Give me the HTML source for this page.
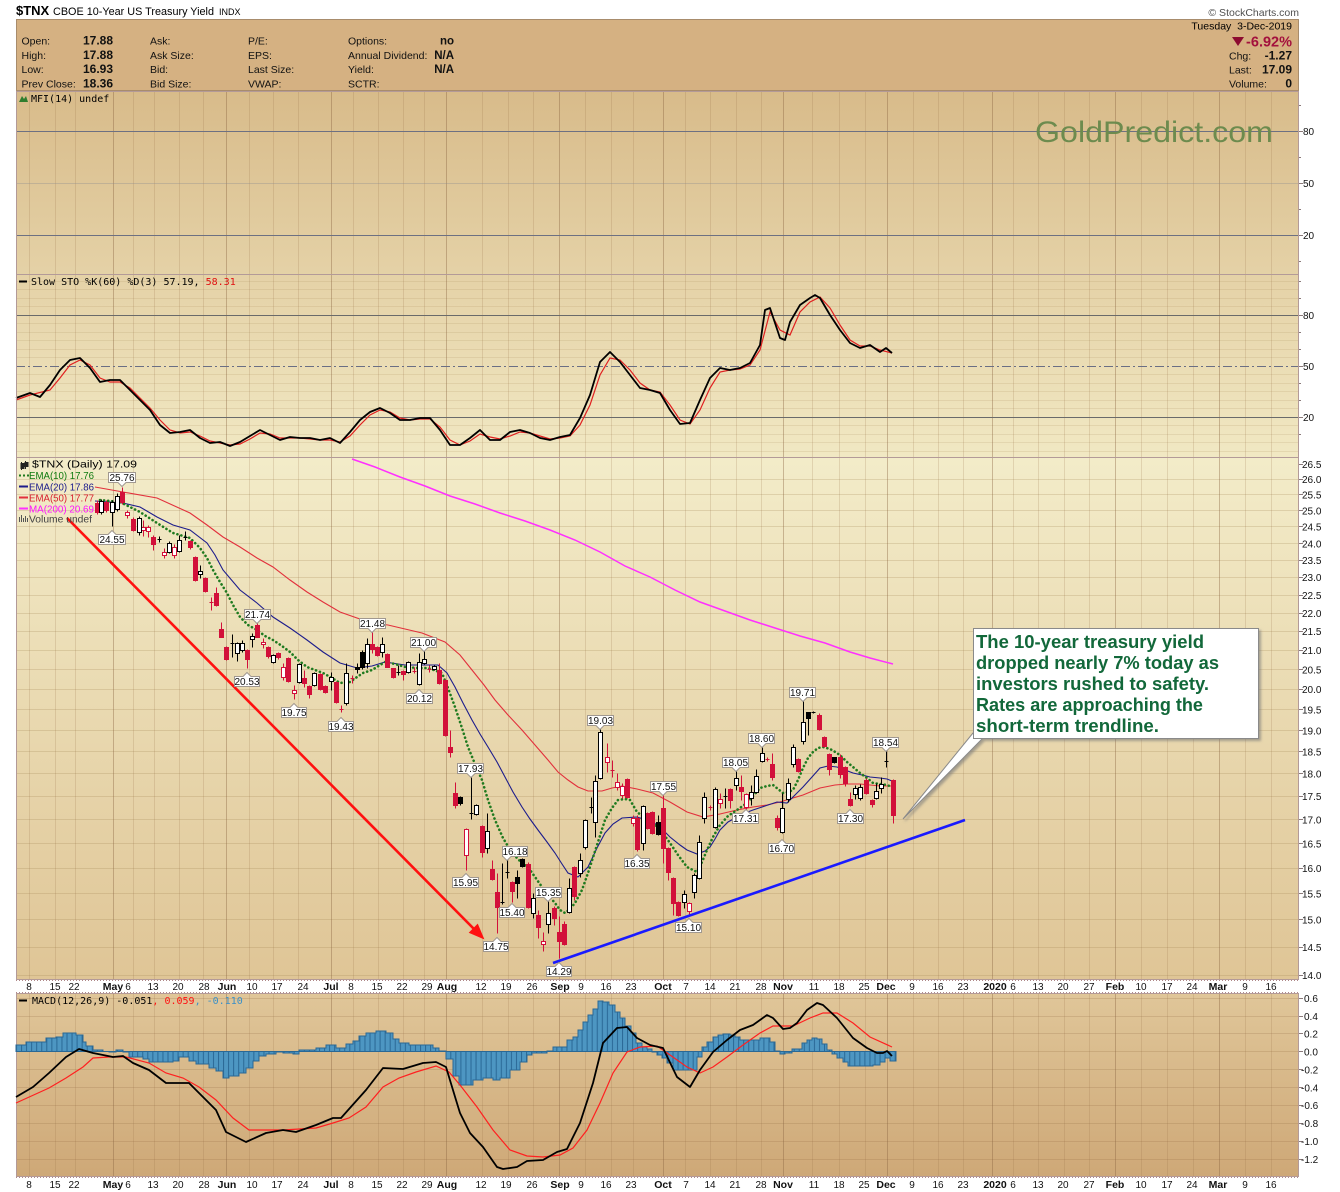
<!DOCTYPE html>
<html><head><meta charset="utf-8"><style>
html,body{margin:0;padding:0;background:#fff;}
svg{display:block;}
text{font-family:"Liberation Sans",Arial,sans-serif;}
.mono{font-family:"DejaVu Sans Mono","Liberation Mono",monospace;font-size:10px;}
.ax{font-size:10px;fill:#111;}
.xl{font-size:10px;fill:#111;text-anchor:middle;}
.xb{font-size:10.5px;font-weight:bold;fill:#111;text-anchor:middle;}
.hl{font-size:10.5px;fill:#111;}
.hv{font-size:12px;font-weight:bold;fill:#111;text-anchor:end;}
.pl{font-size:10px;fill:#111;text-anchor:middle;}
</style></head><body>
<svg width="1340" height="1192" viewBox="0 0 1340 1192" xmlns="http://www.w3.org/2000/svg">
<defs>
<linearGradient id="gTop" x1="0" y1="0" x2="0" y2="1"><stop offset="0" stop-color="#d8bb8a"/><stop offset="1" stop-color="#f1e8c3"/></linearGradient>
<linearGradient id="gMain" x1="0" y1="0" x2="0" y2="1"><stop offset="0" stop-color="#f3ecc9"/><stop offset="1" stop-color="#dfc596"/></linearGradient>
<linearGradient id="gMacd" x1="0" y1="0" x2="0" y2="1"><stop offset="0" stop-color="#e0c699"/><stop offset="1" stop-color="#cea877"/></linearGradient>
<pattern id="bars" patternUnits="userSpaceOnUse" x="16" y="0" width="5.05" height="1192"><rect width="5.05" height="1192" fill="#4d96c2"/><rect width="1" height="1192" fill="#2a6895"/></pattern>
<filter id="sh" x="-10%" y="-10%" width="130%" height="130%"><feDropShadow dx="2" dy="2" stdDeviation="1.2" flood-color="#777" flood-opacity="0.6"/></filter>
</defs>
<rect width="1340" height="1192" fill="#fff"/>

<!-- title -->
<text x="16" y="15" font-size="13" font-weight="bold">$TNX</text>
<text x="53" y="15" font-size="11" textLength="161" lengthAdjust="spacingAndGlyphs">CBOE 10-Year US Treasury Yield</text>
<text x="219" y="15" font-size="9">INDX</text>
<text x="1299" y="16" font-size="10.5" fill="#505050" text-anchor="end">© StockCharts.com</text>

<!-- header box -->
<rect x="16.5" y="19.5" width="1282" height="71" fill="#d5b182" stroke="#a88c6c"/>
<g class="hl">
<text x="21.5" y="44.5">Open:</text><text x="21.5" y="58.8">High:</text><text x="21.5" y="73.2">Low:</text><text x="21.5" y="87.5">Prev Close:</text>
<text x="150" y="44.5">Ask:</text><text x="150" y="58.8">Ask Size:</text><text x="150" y="73.2">Bid:</text><text x="150" y="87.5">Bid Size:</text>
<text x="248" y="44.5">P/E:</text><text x="248" y="58.8">EPS:</text><text x="248" y="73.2">Last Size:</text><text x="248" y="87.5">VWAP:</text>
<text x="348" y="44.5">Options:</text><text x="348" y="58.8">Annual Dividend:</text><text x="348" y="73.2">Yield:</text><text x="348" y="87.5">SCTR:</text>
</g>
<g class="hv">
<text x="113" y="44.5">17.88</text><text x="113" y="58.8">17.88</text><text x="113" y="73.2">16.93</text><text x="113" y="87.5">18.36</text>
<text x="454" y="44.5" font-size="11.5">no</text><text x="454" y="58.8" font-size="11.5">N/A</text><text x="454" y="73.2" font-size="11.5">N/A</text>
</g>
<text x="1292" y="29.5" font-size="10.5" text-anchor="end" xml:space="preserve">Tuesday  3-Dec-2019</text>
<polygon points="1232,37 1244,37 1238,46" fill="#8c0b30"/>
<text x="1292" y="46.5" font-size="14.5" font-weight="bold" fill="#a3113d" text-anchor="end">-6.92%</text>
<text x="1229" y="59.5" class="hl">Chg:</text><text x="1292" y="59.5" class="hv">-1.27</text>
<text x="1229" y="73.5" class="hl">Last:</text><text x="1292" y="73.5" class="hv">17.09</text>
<text x="1229" y="87.5" class="hl">Volume:</text><text x="1292" y="87.5" class="hv">0</text>

<!-- panel backgrounds -->
<rect x="16" y="91" width="1283" height="366" fill="url(#gTop)"/>
<rect x="16" y="457" width="1283" height="523" fill="url(#gMain)"/>
<rect x="16" y="993" width="1283" height="184" fill="url(#gMacd)"/>

<!-- horizontal grid: STO every 5 -->
<g stroke="#a08050" stroke-opacity="0.16" stroke-width="1">
<path d="M16 281.5H1299M16 289.5H1299M16 298.5H1299M16 306.5H1299M16 323.5H1299M16 332.5H1299M16 340.5H1299M16 349.5H1299M16 357.5H1299M16 374.5H1299M16 383.5H1299M16 391.5H1299M16 400.5H1299M16 408.5H1299M16 425.5H1299M16 434.5H1299M16 442.5H1299M16 451.5H1299"/>
</g>
<!-- main horizontal grid every 0.5 -->
<g stroke="#a08050" stroke-opacity="0.24" stroke-width="1">
<path d="M16 479.5H1299M16 494.5H1299M16 510.5H1299M16 526.5H1299M16 543.5H1299M16 560.5H1299M16 577.5H1299M16 595.5H1299M16 613.5H1299M16 631.5H1299M16 650.5H1299M16 669.5H1299M16 689.5H1299M16 709.5H1299M16 730.5H1299M16 751.5H1299M16 773.5H1299M16 796.5H1299M16 819.5H1299M16 843.5H1299M16 868.5H1299M16 893.5H1299M16 919.5H1299M16 947.5H1299M16 975.5H1299"/>
</g>
<!-- macd horizontal grid -->
<g stroke="#906a40" stroke-opacity="0.22" stroke-width="1">
<path d="M16 998.5H1299M16 1016.5H1299M16 1033.5H1299M16 1051.5H1299M16 1069.5H1299M16 1087.5H1299M16 1105.5H1299M16 1123.5H1299M16 1141.5H1299M16 1159.5H1299"/>
</g>

<!-- vertical grid weekly -->
<g stroke="#957045" stroke-opacity="0.2" stroke-width="1">
<path d="M29.5 91V457M55.5 91V457M75.5 91V457M133.5 91V457M154.5 91V457M179.5 91V457M203.5 91V457M249.5 91V457M273.5 91V457M298.5 91V457M353.5 91V457M378.5 91V457M403.5 91V457M424.5 91V457M482.5 91V457M508.5 91V457M533.5 91V457M585.5 91V457M611.5 91V457M633.5 91V457M685.5 91V457M710.5 91V457M736.5 91V457M761.5 91V457M812.5 91V457M839.5 91V457M865.5 91V457M913.5 91V457M938.5 91V457M963.5 91V457M1013.5 91V457M1038.5 91V457M1064.5 91V457M1089.5 91V457M1141.5 91V457M1167.5 91V457M1193.5 91V457M1245.5 91V457M1271.5 91V457"/>
<path d="M29.5 457V980M55.5 457V980M75.5 457V980M133.5 457V980M154.5 457V980M179.5 457V980M203.5 457V980M249.5 457V980M273.5 457V980M298.5 457V980M353.5 457V980M378.5 457V980M403.5 457V980M424.5 457V980M482.5 457V980M508.5 457V980M533.5 457V980M585.5 457V980M611.5 457V980M633.5 457V980M685.5 457V980M710.5 457V980M736.5 457V980M761.5 457V980M812.5 457V980M839.5 457V980M865.5 457V980M913.5 457V980M938.5 457V980M963.5 457V980M1013.5 457V980M1038.5 457V980M1064.5 457V980M1089.5 457V980M1141.5 457V980M1167.5 457V980M1193.5 457V980M1245.5 457V980M1271.5 457V980"/>
<path d="M29.5 993V1177M55.5 993V1177M75.5 993V1177M133.5 993V1177M154.5 993V1177M179.5 993V1177M203.5 993V1177M249.5 993V1177M273.5 993V1177M298.5 993V1177M353.5 993V1177M378.5 993V1177M403.5 993V1177M424.5 993V1177M482.5 993V1177M508.5 993V1177M533.5 993V1177M585.5 993V1177M611.5 993V1177M633.5 993V1177M685.5 993V1177M710.5 993V1177M736.5 993V1177M761.5 993V1177M812.5 993V1177M839.5 993V1177M865.5 993V1177M913.5 993V1177M938.5 993V1177M963.5 993V1177M1013.5 993V1177M1038.5 993V1177M1064.5 993V1177M1089.5 993V1177M1141.5 993V1177M1167.5 993V1177M1193.5 993V1177M1245.5 993V1177M1271.5 993V1177"/>
</g>
<!-- vertical grid monthly -->
<g stroke="#8a6440" stroke-opacity="0.4" stroke-width="1">
<path d="M113.5 91V980M226.5 91V980M331.5 91V980M446.5 91V980M559.5 91V980M663.5 91V980M783.5 91V980M887.5 91V980M992.5 91V980M1115.5 91V980M1219.5 91V980"/>
<path d="M113.5 993V1177M226.5 993V1177M331.5 993V1177M446.5 993V1177M559.5 993V1177M663.5 993V1177M783.5 993V1177M887.5 993V1177M992.5 993V1177M1115.5 993V1177M1219.5 993V1177"/>
</g>

<!-- MFI panel -->
<path d="M16 131.5H1299M16 235.5H1299" stroke="#6d7082" stroke-width="1"/>
<path d="M16 183.5H1299" stroke="#8a8a90" stroke-opacity="0.35" stroke-width="1"/>
<polygon points="19,102 22,96 24,99 26,96 28,102" fill="#2e7d2e"/>
<text x="31" y="102" class="mono">MFI(14) undef</text>
<text x="1035" y="142" font-size="30" fill="#6d8b4e" textLength="238" lengthAdjust="spacingAndGlyphs">GoldPredict.com</text>

<!-- STO panel -->
<path d="M16 315.5H1299M16 417.5H1299" stroke="#6a6a6a" stroke-width="1"/>
<path d="M16 366.5H1299" stroke="#6a6e84" stroke-width="1" stroke-dasharray="9 3 2 3"/>
<path d="M19 281.5H27" stroke="#000" stroke-width="2"/>
<text x="31" y="285" class="mono">Slow STO %K(60) %D(3) 57.19, <tspan fill="#e01010">58.31</tspan></text>
<polyline fill="none" stroke="#e02020" stroke-width="1.2" points="16,400 30,395 50,390 60,378 70,365 80,360 90,365 100,378 110,382 120,382 130,388 140,398 150,408 160,420 170,430 180,433 190,432 200,436 210,441 220,443 230,445 240,444 250,439 260,433 270,434 280,438 290,438 300,438 310,439 320,440 330,440 340,442 350,436 360,425 370,415 380,410 390,412 400,418 410,420 420,419 430,419 440,427 450,440 460,445 470,441 480,434 490,437 500,439 510,436 520,432 530,433 540,436 550,439 560,438 570,436 580,425 590,405 600,375 610,358 620,360 630,370 640,383 650,390 660,392 670,405 680,420 690,424 700,410 710,388 720,372 730,370 740,369 750,365 760,350 770,312 780,330 790,335 800,312 810,302 820,297 830,308 840,325 850,340 860,346 870,346 880,350 892,353"/>
<polyline fill="none" stroke="#000" stroke-width="1.8" stroke-linejoin="round" points="16,398 30,393 40,397 50,385 60,370 70,360 80,358 90,368 100,382 110,380 120,380 130,390 140,400 150,410 160,425 170,433 180,432 190,430 200,438 210,443 220,442 230,446 240,442 250,436 260,430 270,435 280,440 290,437 300,438 310,438 320,440 330,438 340,443 350,432 360,420 370,412 380,408 390,413 400,420 410,420 420,418 430,418 440,430 450,445 460,445 470,438 480,430 490,440 500,440 510,432 520,430 530,433 540,438 550,440 560,437 570,435 580,418 590,395 600,362 610,352 620,362 630,375 640,388 650,390 660,393 670,410 680,424 690,423 700,400 710,378 720,368 730,370 740,368 750,363 760,345 765,310 770,308 780,338 785,340 790,322 800,305 810,298 815,295 820,298 830,315 840,330 850,343 860,348 870,345 880,352 886,348 892,353"/>

<!-- panel separators & borders -->
<path d="M16 91.5H1299M16 274.5H1299M16 457.5H1299M16 979.5H1299M16 993.5H1299M16 1176.5H1299" stroke="#b39a98" stroke-width="1"/>
<path d="M16.5 91V980M1298.5 91V980M16.5 993V1177M1298.5 993V1177" stroke="#b39a98" stroke-width="1"/>
<rect x="16" y="980" width="1283" height="13" fill="#fff"/>
<path d="M16 980.5H1299M16 992.5H1299M16 1177.5H1299" stroke="#b08888" stroke-width="1" stroke-dasharray="1 2"/>

<!-- MA / EMA lines -->
<polyline fill="none" stroke="#ff30ff" stroke-width="1.5" points="352,459 375,467 400,477 425,486 450,496 475,504 500,513 525,521 550,530 575,540 600,552 625,566 650,577 675,590 700,602 725,611 750,620 775,628 800,636 825,643 850,652 870,658 893,664"/>
<polyline fill="none" stroke="#e2303c" stroke-width="1.1" points="95,487 123,492 157,498 190,513 207,525 223,537 240,547 257,558 273,567 290,580 307,592 323,602 340,612 357,618 372,623 388,625 405,629 422,633 445,642 460,655 472,670 484,685 495,700 508,715 522,730 535,745 548,760 558,772 568,780 578,787 588,791 602,791 612,788 622,786 637,789 653,793 670,802 687,812 703,817 720,814 737,810 753,807 767,805 780,802 793,798 803,795 820,788 835,785 847,784 860,784 870,785 880,786 892,786"/>
<polyline fill="none" stroke="#1c1c8c" stroke-width="1.1" points="95,501 123,503 140,507 157,517 173,525 190,530 207,543 215,555 223,570 240,590 257,603 273,617 290,628 307,640 323,652 340,663 357,668 372,666 385,662 405,665 438,665 447,673 455,687 463,703 472,720 480,734 488,747 497,762 505,777 513,792 522,807 530,819 538,830 547,842 555,853 562,864 568,873 578,877 588,867 597,848 605,833 613,824 622,818 637,817 653,822 662,829 670,837 680,845 687,850 697,854 705,851 710,847 715,839 720,830 728,822 737,817 745,813 753,810 765,806 777,802 787,803 795,795 803,787 812,777 820,768 828,766 837,767 845,770 853,773 862,775 870,777 880,778 887,779 892,781"/>
<polyline fill="none" stroke="#1f7a1f" stroke-width="2.6" stroke-dasharray="0.1 4" stroke-linecap="round" points="100,500 120,502 140,512 157,523 173,533 190,538 200,548 207,558 213,570 220,582 227,593 233,605 240,617 248,625 257,630 265,636 273,640 282,646 290,652 298,660 307,667 315,670 323,673 332,678 340,683 350,682 357,677 363,673 372,670 385,662 395,664 405,667 418,668 428,668 442,673 448,688 455,707 462,728 468,747 475,764 482,780 488,800 495,820 503,838 512,853 520,861 528,867 535,877 542,887 548,895 555,903 560,910 565,913 570,909 575,903 582,890 588,873 597,845 605,820 612,808 618,800 625,799 630,800 637,812 645,818 653,823 662,832 670,843 678,855 687,867 697,872 702,862 707,850 713,837 720,825 728,816 737,810 747,803 753,796 760,788 767,786 773,785 778,789 783,793 788,792 793,790 798,780 803,768 808,758 813,752 818,748 823,747 830,749 837,753 842,757 847,762 853,767 860,773 867,778 873,783 880,784 887,785 892,787"/>

<!-- candles: red filled -->
<path fill="#d2103a" stroke="#d2103a" stroke-width="1" d="M97.5 500.5V503.5M97.5 512.5V514.5M95.5 503.5h4V512.5h-4zM106.5 500.5V502.5M106.5 510.5V512.5M104.5 502.5h4V510.5h-4zM122.5 487.5V492.5M122.5 502.5V504.5M120.5 492.5h4V502.5h-4zM133.5 517.5V519.5M133.5 530.5V531.5M131.5 519.5h4V530.5h-4zM153.5 535.5V537.5M153.5 544.5V550.5M151.5 537.5h4V544.5h-4zM190.5 540.5V541.5M190.5 547.5V549.5M188.5 541.5h4V547.5h-4zM195.5 556.5V557.5M195.5 580.5V581.5M193.5 557.5h4V580.5h-4zM205.5 577.5V578.5M205.5 591.5V592.5M203.5 578.5h4V591.5h-4zM211.5 597.5V610.5M209.5 602.5h4M216.5 587.5V593.5M216.5 605.5V606.5M214.5 593.5h4V605.5h-4zM221.5 622.5V629.5M219.5 629.5h4V637.5h-4zM226.5 646.5V647.5M226.5 659.5V660.5M224.5 647.5h4V659.5h-4zM247.5 649.5V650.5M247.5 659.5V668.5M245.5 650.5h4V659.5h-4zM257.5 622.5V625.5M255.5 625.5h4V637.5h-4zM268.5 646.5V647.5M268.5 656.5V658.5M266.5 647.5h4V656.5h-4zM278.5 652.5V653.5M278.5 657.5V659.5M276.5 653.5h4V657.5h-4zM288.5 657.5V658.5M288.5 681.5V682.5M286.5 658.5h4V681.5h-4zM304.5 670.5V678.5M304.5 683.5V687.5M302.5 678.5h4V683.5h-4zM309.5 685.5V686.5M309.5 694.5V698.5M307.5 686.5h4V694.5h-4zM320.5 673.5V674.5M320.5 689.5V690.5M318.5 674.5h4V689.5h-4zM325.5 685.5V686.5M325.5 692.5V693.5M323.5 686.5h4V692.5h-4zM336.5 681.5V682.5M336.5 702.5V703.5M334.5 682.5h4V702.5h-4zM341.5 705.5V712.5M339.5 709.5h4M352.5 675.5V683.5M350.5 678.5h4M372.5 632.5V644.5M372.5 649.5V653.5M370.5 644.5h4V649.5h-4zM377.5 646.5V647.5M377.5 655.5V656.5M375.5 647.5h4V655.5h-4zM387.5 653.5V654.5M385.5 654.5h4V667.5h-4zM393.5 677.5V678.5M391.5 668.5h4V677.5h-4zM403.5 670.5V671.5M403.5 674.5V680.5M401.5 671.5h4V674.5h-4zM414.5 667.5V673.5M412.5 671.5h4M429.5 665.5V672.5M427.5 669.5h4M439.5 663.5V670.5M439.5 683.5V684.5M437.5 670.5h4V683.5h-4zM445.5 679.5V680.5M445.5 735.5V736.5M443.5 680.5h4V735.5h-4zM450.5 730.5V747.5M450.5 752.5V757.5M448.5 747.5h4V752.5h-4zM455.5 782.5V793.5M455.5 805.5V808.5M453.5 793.5h4V805.5h-4zM482.5 825.5V826.5M482.5 852.5V857.5M480.5 826.5h4V852.5h-4zM492.5 860.5V869.5M492.5 879.5V880.5M490.5 869.5h4V879.5h-4zM497.5 873.5V892.5M497.5 907.5V933.5M495.5 892.5h4V907.5h-4zM512.5 881.5V882.5M512.5 891.5V902.5M510.5 882.5h4V891.5h-4zM528.5 862.5V864.5M528.5 907.5V908.5M526.5 864.5h4V907.5h-4zM538.5 910.5V915.5M538.5 927.5V938.5M536.5 915.5h4V927.5h-4zM554.5 906.5V908.5M554.5 918.5V925.5M552.5 908.5h4V918.5h-4zM559.5 916.5V932.5M559.5 941.5V958.5M557.5 932.5h4V941.5h-4zM564.5 921.5V924.5M564.5 944.5V945.5M562.5 924.5h4V944.5h-4zM574.5 866.5V867.5M574.5 896.5V900.5M572.5 867.5h4V896.5h-4zM612.5 760.5V777.5M610.5 770.5h4M627.5 778.5V779.5M627.5 797.5V798.5M625.5 779.5h4V797.5h-4zM637.5 815.5V818.5M637.5 849.5V851.5M635.5 818.5h4V849.5h-4zM647.5 812.5V813.5M647.5 828.5V829.5M645.5 813.5h4V828.5h-4zM652.5 811.5V812.5M652.5 833.5V834.5M650.5 812.5h4V833.5h-4zM663.5 794.5V808.5M663.5 848.5V863.5M661.5 808.5h4V848.5h-4zM668.5 847.5V848.5M668.5 872.5V880.5M666.5 848.5h4V872.5h-4zM673.5 877.5V878.5M673.5 903.5V915.5M671.5 878.5h4V903.5h-4zM678.5 901.5V902.5M678.5 915.5V916.5M676.5 902.5h4V915.5h-4zM710.5 805.5V810.5M708.5 807.5h4M730.5 788.5V789.5M730.5 800.5V808.5M728.5 789.5h4V800.5h-4zM741.5 775.5V787.5M741.5 791.5V800.5M739.5 787.5h4V791.5h-4zM767.5 757.5V761.5M765.5 759.5h4M772.5 753.5V764.5M772.5 777.5V780.5M770.5 764.5h4V777.5h-4zM777.5 815.5V818.5M777.5 827.5V830.5M775.5 818.5h4V827.5h-4zM798.5 758.5V759.5M798.5 771.5V772.5M796.5 759.5h4V771.5h-4zM819.5 713.5V715.5M819.5 729.5V730.5M817.5 715.5h4V729.5h-4zM824.5 736.5V737.5M824.5 746.5V747.5M822.5 737.5h4V746.5h-4zM829.5 753.5V754.5M829.5 769.5V775.5M827.5 754.5h4V769.5h-4zM840.5 754.5V757.5M840.5 774.5V778.5M838.5 757.5h4V774.5h-4zM845.5 766.5V767.5M845.5 783.5V786.5M843.5 767.5h4V783.5h-4zM850.5 792.5V799.5M850.5 805.5V806.5M848.5 799.5h4V805.5h-4zM866.5 778.5V780.5M866.5 793.5V794.5M864.5 780.5h4V793.5h-4zM872.5 799.5V800.5M872.5 804.5V807.5M870.5 800.5h4V804.5h-4zM893.5 779.5V780.5M893.5 815.5V823.5M891.5 780.5h4V815.5h-4z"/>
<!-- red hollow -->
<path fill="#fff" stroke="#d2103a" stroke-width="1" d="M127.5 510.5V512.5M127.5 515.5V518.5M125.5 512.5h4V515.5h-4zM143.5 520.5V527.5M143.5 530.5V536.5M141.5 527.5h4V530.5h-4zM148.5 525.5V527.5M148.5 531.5V537.5M146.5 527.5h4V531.5h-4zM164.5 548.5V552.5M164.5 555.5V558.5M162.5 552.5h4V555.5h-4zM174.5 544.5V547.5M174.5 555.5V558.5M172.5 547.5h4V555.5h-4zM263.5 638.5V642.5M263.5 644.5V648.5M261.5 642.5h4V644.5h-4zM283.5 663.5V667.5M283.5 677.5V680.5M281.5 667.5h4V677.5h-4zM294.5 685.5V690.5M294.5 693.5V699.5M292.5 690.5h4V693.5h-4zM466.5 828.5V829.5M466.5 855.5V870.5M464.5 829.5h4V855.5h-4zM543.5 932.5V941.5M543.5 944.5V951.5M541.5 941.5h4V944.5h-4zM607.5 743.5V757.5M607.5 762.5V772.5M605.5 757.5h4V762.5h-4zM617.5 773.5V782.5M617.5 787.5V790.5M615.5 782.5h4V787.5h-4zM622.5 783.5V786.5M622.5 795.5V798.5M620.5 786.5h4V795.5h-4zM633.5 815.5V818.5M633.5 823.5V826.5M631.5 818.5h4V823.5h-4zM689.5 902.5V903.5M689.5 911.5V914.5M687.5 903.5h4V911.5h-4zM720.5 793.5V799.5M720.5 803.5V808.5M718.5 799.5h4V803.5h-4zM746.5 793.5V794.5M746.5 807.5V813.5M744.5 794.5h4V807.5h-4z"/>
<!-- hollow black -->
<path fill="#fff" stroke="#000" stroke-width="1" d="M101.5 499.5V501.5M101.5 512.5V514.5M99.5 501.5h4V512.5h-4zM112.5 500.5V502.5M112.5 512.5V526.5M110.5 502.5h4V512.5h-4zM117.5 493.5V496.5M117.5 509.5V511.5M115.5 496.5h4V509.5h-4zM139.5 516.5V518.5M139.5 532.5V535.5M137.5 518.5h4V532.5h-4zM169.5 541.5V543.5M169.5 552.5V553.5M167.5 543.5h4V552.5h-4zM179.5 535.5V540.5M179.5 551.5V552.5M177.5 540.5h4V551.5h-4zM200.5 565.5V571.5M200.5 574.5V578.5M198.5 571.5h4V574.5h-4zM237.5 642.5V643.5M237.5 653.5V661.5M235.5 643.5h4V653.5h-4zM242.5 640.5V643.5M242.5 650.5V652.5M240.5 643.5h4V650.5h-4zM252.5 633.5V636.5M252.5 639.5V647.5M250.5 636.5h4V639.5h-4zM273.5 654.5V655.5M273.5 662.5V663.5M271.5 655.5h4V662.5h-4zM299.5 663.5V664.5M299.5 682.5V683.5M297.5 664.5h4V682.5h-4zM314.5 672.5V673.5M314.5 685.5V686.5M312.5 673.5h4V685.5h-4zM331.5 672.5V677.5M331.5 681.5V690.5M329.5 677.5h4V681.5h-4zM346.5 663.5V673.5M346.5 703.5V705.5M344.5 673.5h4V703.5h-4zM367.5 638.5V644.5M367.5 663.5V668.5M365.5 644.5h4V663.5h-4zM382.5 637.5V644.5M382.5 652.5V657.5M380.5 644.5h4V652.5h-4zM408.5 661.5V662.5M408.5 672.5V673.5M406.5 662.5h4V672.5h-4zM419.5 653.5V662.5M419.5 684.5V685.5M417.5 662.5h4V684.5h-4zM424.5 650.5V659.5M424.5 663.5V664.5M422.5 659.5h4V663.5h-4zM434.5 665.5V666.5M434.5 669.5V670.5M432.5 666.5h4V669.5h-4zM476.5 804.5V805.5M476.5 814.5V815.5M474.5 805.5h4V814.5h-4zM487.5 813.5V831.5M487.5 848.5V853.5M485.5 831.5h4V848.5h-4zM533.5 893.5V898.5M533.5 913.5V918.5M531.5 898.5h4V913.5h-4zM548.5 901.5V913.5M548.5 924.5V933.5M546.5 913.5h4V924.5h-4zM569.5 878.5V888.5M569.5 912.5V913.5M567.5 888.5h4V912.5h-4zM580.5 853.5V860.5M580.5 873.5V877.5M578.5 860.5h4V873.5h-4zM585.5 819.5V820.5M585.5 847.5V849.5M583.5 820.5h4V847.5h-4zM595.5 775.5V781.5M595.5 822.5V837.5M593.5 781.5h4V822.5h-4zM600.5 729.5V732.5M600.5 778.5V779.5M598.5 732.5h4V778.5h-4zM643.5 805.5V806.5M643.5 843.5V850.5M641.5 806.5h4V843.5h-4zM684.5 890.5V894.5M684.5 902.5V908.5M682.5 894.5h4V902.5h-4zM694.5 873.5V875.5M694.5 892.5V898.5M692.5 875.5h4V892.5h-4zM699.5 835.5V842.5M699.5 878.5V879.5M697.5 842.5h4V878.5h-4zM704.5 792.5V797.5M704.5 818.5V823.5M702.5 797.5h4V818.5h-4zM715.5 787.5V789.5M715.5 827.5V828.5M713.5 789.5h4V827.5h-4zM736.5 771.5V778.5M736.5 785.5V790.5M734.5 778.5h4V785.5h-4zM751.5 785.5V792.5M751.5 798.5V805.5M749.5 792.5h4V798.5h-4zM756.5 769.5V776.5M756.5 792.5V793.5M754.5 776.5h4V792.5h-4zM762.5 747.5V753.5M762.5 761.5V762.5M760.5 753.5h4V761.5h-4zM782.5 793.5V808.5M782.5 832.5V833.5M780.5 808.5h4V832.5h-4zM788.5 778.5V783.5M788.5 799.5V802.5M786.5 783.5h4V799.5h-4zM793.5 744.5V747.5M793.5 764.5V767.5M791.5 747.5h4V764.5h-4zM803.5 701.5V722.5M803.5 741.5V744.5M801.5 722.5h4V741.5h-4zM855.5 785.5V788.5M855.5 794.5V799.5M853.5 788.5h4V794.5h-4zM860.5 784.5V787.5M860.5 798.5V800.5M858.5 787.5h4V798.5h-4zM876.5 783.5V791.5M876.5 798.5V799.5M874.5 791.5h4V798.5h-4zM881.5 777.5V784.5M881.5 788.5V793.5M879.5 784.5h4V788.5h-4z"/>
<!-- black filled -->
<path fill="#000" stroke="#000" stroke-width="1" d="M159.5 536.5V542.5M157.5 539.5h4M185.5 531.5V540.5M183.5 537.5h4M232.5 634.5V657.5M230.5 643.5h4M357.5 663.5V667.5M357.5 669.5V673.5M355.5 667.5h4V669.5h-4zM362.5 650.5V652.5M362.5 667.5V669.5M360.5 652.5h4V667.5h-4zM398.5 665.5V675.5M396.5 672.5h4M460.5 796.5V797.5M460.5 803.5V805.5M458.5 797.5h4V803.5h-4zM471.5 777.5V819.5M469.5 813.5h4M502.5 863.5V904.5M500.5 902.5h4M507.5 859.5V878.5M505.5 872.5h4M517.5 870.5V877.5M517.5 883.5V898.5M515.5 877.5h4V883.5h-4zM522.5 858.5V859.5M522.5 866.5V867.5M520.5 859.5h4V866.5h-4zM591.5 797.5V813.5M589.5 807.5h4M658.5 815.5V822.5M658.5 834.5V835.5M656.5 822.5h4V834.5h-4zM725.5 788.5V808.5M723.5 796.5h4M808.5 718.5V735.5M806.5 712.5h4V718.5h-4zM813.5 711.5V713.5M811.5 712.5h4M834.5 762.5V763.5M832.5 757.5h4V762.5h-4zM886.5 750.5V767.5M884.5 761.5h4"/>

<!-- trend lines -->
<line x1="67" y1="518" x2="474" y2="929" stroke="#ff1010" stroke-width="2.6"/>
<polygon points="483,938 470,932.5 477.5,925" fill="#ff1010" stroke="#ff1010" stroke-width="1.5"/>
<line x1="553" y1="963" x2="965" y2="820" stroke="#1a1aff" stroke-width="2.6"/>

<!-- price labels -->
<g fill="#fff" stroke="#a09890" stroke-width="1">
<path d="M108.5 472.5H135.5V482.5H126L122 486.5L118 482.5H108.5Z"/>
<path d="M98.5 534.5H108L112 530.5L116 534.5H125.5V544.5H98.5Z"/>
<path d="M244.5 609.5H270.5V619.5H261L257 623.5L253 619.5H244.5Z"/>
<path d="M234.5 676.5H243L247 672.5L251 676.5H259.5V686.5H234.5Z"/>
<path d="M281.5 707.5H290L294 703.5L298 707.5H306.5V717.5H281.5Z"/>
<path d="M328.5 721.5H337L341 717.5L345 721.5H353.5V731.5H328.5Z"/>
<path d="M359.5 618.5H385.5V628.5H376L372 632.5L368 628.5H359.5Z"/>
<path d="M410.5 637.5H436.5V647.5H428L424 651.5L420 647.5H410.5Z"/>
<path d="M406.5 693.5H415L419 689.5L423 693.5H432.5V703.5H406.5Z"/>
<path d="M457.5 763.5H483.5V773.5H475L471 777.5L467 773.5H457.5Z"/>
<path d="M452.5 877.5H462L466 873.5L470 877.5H478.5V887.5H452.5Z"/>
<path d="M502.5 846.5H527.5V856.5H511L507 860.5L503 856.5H502.5Z"/>
<path d="M499.5 907.5H508L512 903.5L516 907.5H524.5V917.5H499.5Z"/>
<path d="M483.5 941.5H493L497 937.5L501 941.5H508.5V951.5H483.5Z"/>
<path d="M535.5 887.5H561.5V897.5H552L548 901.5L544 897.5H535.5Z"/>
<path d="M546.5 966.5H555L559 962.5L563 966.5H571.5V976.5H546.5Z"/>
<path d="M587.5 715.5H613.5V725.5H604L600 729.5L596 725.5H587.5Z"/>
<path d="M624.5 858.5H633L637 854.5L641 858.5H649.5V868.5H624.5Z"/>
<path d="M650.5 781.5H676.5V791.5H667L663 795.5L659 791.5H650.5Z"/>
<path d="M675.5 922.5H685L689 918.5L693 922.5H701.5V932.5H675.5Z"/>
<path d="M732.5 813.5H742L746 809.5L750 813.5H758.5V823.5H732.5Z"/>
<path d="M722.5 757.5H748.5V767.5H740L736 771.5L732 767.5H722.5Z"/>
<path d="M748.5 733.5H774.5V743.5H766L762 747.5L758 743.5H748.5Z"/>
<path d="M768.5 843.5H778L782 839.5L786 843.5H794.5V853.5H768.5Z"/>
<path d="M789.5 687.5H815.5V697.5H807L803 701.5L799 697.5H789.5Z"/>
<path d="M837.5 813.5H846L850 809.5L854 813.5H863.5V823.5H837.5Z"/>
<path d="M872.5 737.5H898.5V747.5H890L886 751.5L882 747.5H872.5Z"/>
</g>
<g class="pl">
<text x="122" y="481">25.76</text><text x="112" y="543">24.55</text><text x="257.5" y="618">21.74</text><text x="247" y="685">20.53</text><text x="294" y="716">19.75</text><text x="341" y="730">19.43</text><text x="372.5" y="627">21.48</text><text x="423.5" y="646">21.00</text><text x="419.5" y="702">20.12</text><text x="470.5" y="772">17.93</text><text x="465.5" y="886">15.95</text><text x="515" y="855">16.18</text><text x="512" y="916">15.40</text><text x="496" y="950">14.75</text><text x="548.5" y="896">15.35</text><text x="559" y="975">14.29</text><text x="600.5" y="724">19.03</text><text x="637" y="867">16.35</text><text x="663.5" y="790">17.55</text><text x="688.5" y="931">15.10</text><text x="745.5" y="822">17.31</text><text x="735.5" y="766">18.05</text><text x="761.5" y="742">18.60</text><text x="781.5" y="852">16.70</text><text x="802.5" y="696">19.71</text><text x="850.5" y="822">17.30</text><text x="885.5" y="746">18.54</text>
</g>

<!-- legend -->
<g>
<path d="M21.5 462V470M21 463.5h3v5h-3zM25.5 461V469M25 462.5h3v4h-3z" stroke="#222" fill="#222" stroke-width="1"/>
<text x="32" y="467.5" font-size="10.5" textLength="105" lengthAdjust="spacingAndGlyphs">$TNX (Daily) 17.09</text>
<path d="M19 475.5h2M23 475.5h2M27 475.5h2" stroke="#1f7a1f" stroke-width="2"/>
<text x="29" y="479" font-size="10.5" fill="#0f7a0f" textLength="65" lengthAdjust="spacingAndGlyphs">EMA(10) 17.76</text>
<path d="M19 486.5H28" stroke="#1c1c8c" stroke-width="2"/>
<text x="29" y="490.5" font-size="10.5" fill="#1c1c8c" textLength="65" lengthAdjust="spacingAndGlyphs">EMA(20) 17.86</text>
<path d="M19 497.5H28" stroke="#e2303c" stroke-width="2"/>
<text x="29" y="501.5" font-size="10.5" fill="#d8202e" textLength="65" lengthAdjust="spacingAndGlyphs">EMA(50) 17.77</text>
<path d="M19 508.5H28" stroke="#ff30ff" stroke-width="2"/>
<text x="29" y="512.5" font-size="10.5" fill="#ff10ff" textLength="65" lengthAdjust="spacingAndGlyphs">MA(200) 20.69</text>
<path d="M19.5 522V517M21.5 522V515M23.5 522V518M25.5 522V516M27.5 522V518" stroke="#555" stroke-width="1"/>
<text x="29" y="522.5" font-size="10.5" fill="#444" textLength="63" lengthAdjust="spacingAndGlyphs">Volume undef</text>
</g>

<!-- callout -->
<g filter="url(#sh)">
<polygon points="973,733 903,819 982,739" fill="#fff" stroke="#8a8a8a" stroke-width="1"/>
<rect x="973.5" y="628.5" width="285" height="110" fill="#fff" stroke="#8a8a8a" stroke-width="1"/>
</g>
<rect x="974" y="730" width="9" height="8" fill="#fff"/>
<g font-size="18" font-weight="bold" fill="#12683a">
<text x="976" y="648" textLength="228" lengthAdjust="spacingAndGlyphs">The 10-year treasury yield</text>
<text x="976" y="669" textLength="243" lengthAdjust="spacingAndGlyphs">dropped nearly 7% today as</text>
<text x="976" y="690" textLength="233" lengthAdjust="spacingAndGlyphs">investors rushed to safety.</text>
<text x="976" y="711" textLength="227" lengthAdjust="spacingAndGlyphs">Rates are approaching the</text>
<text x="976" y="732" textLength="183" lengthAdjust="spacingAndGlyphs">short-term trendline.</text>
</g>

<!-- MACD -->
<path fill="url(#bars)" stroke="#2a6895" stroke-width="1" d="M16 1051.5V1045H26V1042H46V1038H56V1037H63V1033H76V1035H83V1042H86V1046H93V1050H103V1051.5H109V1052H116V1050H123V1052H129V1057H143V1059H149V1062H173V1061H179V1057H189V1061H196V1064H209V1068H216V1071H223V1078H229V1076H239V1073H246V1068H253V1061H259V1056H266V1054H276V1052H283V1053H293V1054H299V1050H316V1048H326V1045H336V1048H346V1044H353V1041H359V1036H366V1033H376V1031H386V1033H393V1039H399V1043H409V1045H433V1048H439V1051H446V1059H453V1076H459V1085H473V1080H483V1078H493V1080H500V1078H510V1070H520V1062H527V1055H532V1053H547V1051H553V1047H567V1040H573V1037H578V1030H583V1022H588V1015H593V1009H598V1001H603V1002H609V1005H615V1012H620V1018H625V1026H631V1033H636V1043H642V1047H647V1049H652V1052H657V1055H662V1058H667V1063H673V1070H697V1057H702V1047H707V1042H713V1037H718V1035H723V1034H730V1035H735V1037H740V1040H760V1038H770V1042H775V1051H780V1054H785V1053H792V1049H802V1043H807V1040H812V1038H817V1039H822V1044H827V1050H832V1054H837V1058H843V1062H848V1066H873V1065H880V1062H885V1058H890V1061H896V1051.5Z"/>
<polyline fill="none" stroke="#ff2020" stroke-width="1.2" points="16,1103 49,1088 66,1078 83,1067 93,1058 109,1057 126,1057 149,1063 166,1073 183,1078 199,1087 216,1100 233,1118 249,1130 283,1130 316,1128 333,1123 349,1118 366,1107 383,1087 399,1078 416,1072 436,1066 449,1072 460,1085 477,1107 493,1130 510,1150 527,1156 543,1157 560,1155 573,1148 587,1130 600,1103 613,1073 627,1052 640,1047 657,1046 670,1055 687,1067 700,1073 713,1067 727,1057 743,1045 760,1033 773,1026 793,1026 810,1018 823,1013 837,1013 853,1023 870,1037 892,1047"/>
<polyline fill="none" stroke="#000" stroke-width="1.8" stroke-linejoin="round" points="16,1097 33,1087 49,1073 66,1057 79,1049 93,1053 113,1057 123,1056 133,1063 149,1070 166,1083 183,1083 189,1083 199,1093 216,1110 226,1132 246,1142 266,1133 283,1130 296,1132 316,1125 333,1118 341,1118 366,1090 383,1068 403,1069 423,1063 436,1062 446,1067 456,1100 460,1113 470,1133 483,1147 497,1167 503,1169 517,1167 527,1161 543,1160 557,1152 567,1149 580,1123 593,1083 603,1043 617,1028 627,1027 637,1038 650,1045 663,1048 677,1077 690,1087 700,1070 713,1052 727,1040 740,1030 753,1025 767,1015 773,1018 783,1029 790,1028 797,1023 807,1010 817,1003 823,1005 837,1018 853,1038 867,1048 877,1053 883,1053 887,1051 892,1056"/>
<path d="M19 1000.5H27" stroke="#000" stroke-width="2"/>
<text x="32" y="1004" class="mono">MACD(12,26,9) -0.051<tspan fill="#ff1010">, 0.059</tspan><tspan fill="#3a90c8">, -0.110</tspan></text>

<!-- right axis ticks -->
<g stroke="#8a7a7a" stroke-width="1">
<path d="M1299 131.5h4M1299 183.5h4M1299 235.5h4M1299 105.5h2M1299 157.5h2M1299 209.5h2M1299 261.5h2"/>
<path d="M1299 315.5h4M1299 366.5h4M1299 417.5h4M1299 298.5h2M1299 332.5h2M1299 349.5h2M1299 383.5h2M1299 400.5h2M1299 434.5h2M1299 281.5h2"/>
<path d="M1299 464.5h4M1299 479.5h4M1299 494.5h4M1299 510.5h4M1299 526.5h4M1299 543.5h4M1299 560.5h4M1299 577.5h4M1299 595.5h4M1299 613.5h4M1299 631.5h4M1299 650.5h4M1299 669.5h4M1299 689.5h4M1299 709.5h4M1299 730.5h4M1299 751.5h4M1299 773.5h4M1299 796.5h4M1299 819.5h4M1299 843.5h4M1299 868.5h4M1299 893.5h4M1299 919.5h4M1299 947.5h4M1299 975.5h4"/>
<path d="M1299 998.5h4M1299 1016.5h4M1299 1033.5h4M1299 1051.5h4M1299 1069.5h4M1299 1087.5h4M1299 1105.5h4M1299 1123.5h4M1299 1141.5h4M1299 1159.5h4"/>
</g>
<!-- right axis labels -->
<g class="ax">
<text x="1303" y="135">80</text><text x="1303" y="187">50</text><text x="1303" y="239">20</text>
<text x="1303" y="319">80</text><text x="1303" y="370">50</text><text x="1303" y="421">20</text>
<text x="1302" y="468">26.5</text><text x="1302" y="483">26.0</text><text x="1302" y="498.5">25.5</text><text x="1302" y="514.5">25.0</text><text x="1302" y="530.5">24.5</text><text x="1302" y="547.5">24.0</text><text x="1302" y="564">23.5</text><text x="1302" y="581">23.0</text><text x="1302" y="599">22.5</text><text x="1302" y="617">22.0</text><text x="1302" y="635">21.5</text><text x="1302" y="654">21.0</text><text x="1302" y="673.5">20.5</text><text x="1302" y="693">20.0</text><text x="1302" y="713.5">19.5</text><text x="1302" y="734.5">19.0</text><text x="1302" y="755.5">18.5</text><text x="1302" y="777.5">18.0</text><text x="1302" y="800">17.5</text><text x="1302" y="823.5">17.0</text><text x="1302" y="847.5">16.5</text><text x="1302" y="872">16.0</text><text x="1302" y="897.5">15.5</text><text x="1302" y="923.5">15.0</text><text x="1302" y="951">14.5</text><text x="1302" y="979">14.0</text>
<text x="1304" y="1002">0.6</text><text x="1304" y="1020">0.4</text><text x="1304" y="1037.5">0.2</text><text x="1304" y="1055.5">0.0</text><text x="1301" y="1073.5">-0.2</text><text x="1301" y="1091.5">-0.4</text><text x="1301" y="1109">-0.6</text><text x="1301" y="1127">-0.8</text><text x="1301" y="1145">-1.0</text><text x="1301" y="1163">-1.2</text>
</g>

<!-- x-axis labels (top strip) -->
<g>
<text class="xl" x="29" y="990">8</text><text class="xl" x="55" y="990">15</text><text class="xl" x="74" y="990">22</text><text class="xb" x="113" y="990">May</text><text class="xl" x="128" y="990">6</text><text class="xl" x="153" y="990">13</text><text class="xl" x="178" y="990">20</text><text class="xl" x="204" y="990">28</text><text class="xb" x="227" y="990">Jun</text><text class="xl" x="252" y="990">10</text><text class="xl" x="277" y="990">17</text><text class="xl" x="303" y="990">24</text><text class="xb" x="331" y="990">Jul</text><text class="xl" x="351" y="990">8</text><text class="xl" x="377" y="990">15</text><text class="xl" x="402" y="990">22</text><text class="xl" x="427" y="990">29</text><text class="xb" x="447" y="990">Aug</text><text class="xl" x="481" y="990">12</text><text class="xl" x="506" y="990">19</text><text class="xl" x="532" y="990">26</text><text class="xb" x="560" y="990">Sep</text><text class="xl" x="581" y="990">9</text><text class="xl" x="606" y="990">16</text><text class="xl" x="631" y="990">23</text><text class="xb" x="663" y="990">Oct</text><text class="xl" x="686" y="990">7</text><text class="xl" x="710" y="990">14</text><text class="xl" x="735" y="990">21</text><text class="xl" x="761" y="990">28</text><text class="xb" x="783" y="990">Nov</text><text class="xl" x="814" y="990">11</text><text class="xl" x="839" y="990">18</text><text class="xl" x="864" y="990">25</text><text class="xb" x="886" y="990">Dec</text><text class="xl" x="912" y="990">9</text><text class="xl" x="938" y="990">16</text><text class="xl" x="963" y="990">23</text><text class="xb" x="995" y="990">2020</text><text class="xl" x="1013" y="990">6</text><text class="xl" x="1038" y="990">13</text><text class="xl" x="1063" y="990">20</text><text class="xl" x="1089" y="990">27</text><text class="xb" x="1115" y="990">Feb</text><text class="xl" x="1141" y="990">10</text><text class="xl" x="1167" y="990">17</text><text class="xl" x="1192" y="990">24</text><text class="xb" x="1218" y="990">Mar</text><text class="xl" x="1245" y="990">9</text><text class="xl" x="1271" y="990">16</text>
</g>
<!-- x-axis labels (bottom) -->
<g>
<text class="xl" x="29" y="1188">8</text><text class="xl" x="55" y="1188">15</text><text class="xl" x="74" y="1188">22</text><text class="xb" x="113" y="1188">May</text><text class="xl" x="128" y="1188">6</text><text class="xl" x="153" y="1188">13</text><text class="xl" x="178" y="1188">20</text><text class="xl" x="204" y="1188">28</text><text class="xb" x="227" y="1188">Jun</text><text class="xl" x="252" y="1188">10</text><text class="xl" x="277" y="1188">17</text><text class="xl" x="303" y="1188">24</text><text class="xb" x="331" y="1188">Jul</text><text class="xl" x="351" y="1188">8</text><text class="xl" x="377" y="1188">15</text><text class="xl" x="402" y="1188">22</text><text class="xl" x="427" y="1188">29</text><text class="xb" x="447" y="1188">Aug</text><text class="xl" x="481" y="1188">12</text><text class="xl" x="506" y="1188">19</text><text class="xl" x="532" y="1188">26</text><text class="xb" x="560" y="1188">Sep</text><text class="xl" x="581" y="1188">9</text><text class="xl" x="606" y="1188">16</text><text class="xl" x="631" y="1188">23</text><text class="xb" x="663" y="1188">Oct</text><text class="xl" x="686" y="1188">7</text><text class="xl" x="710" y="1188">14</text><text class="xl" x="735" y="1188">21</text><text class="xl" x="761" y="1188">28</text><text class="xb" x="783" y="1188">Nov</text><text class="xl" x="814" y="1188">11</text><text class="xl" x="839" y="1188">18</text><text class="xl" x="864" y="1188">25</text><text class="xb" x="886" y="1188">Dec</text><text class="xl" x="912" y="1188">9</text><text class="xl" x="938" y="1188">16</text><text class="xl" x="963" y="1188">23</text><text class="xb" x="995" y="1188">2020</text><text class="xl" x="1013" y="1188">6</text><text class="xl" x="1038" y="1188">13</text><text class="xl" x="1063" y="1188">20</text><text class="xl" x="1089" y="1188">27</text><text class="xb" x="1115" y="1188">Feb</text><text class="xl" x="1141" y="1188">10</text><text class="xl" x="1167" y="1188">17</text><text class="xl" x="1192" y="1188">24</text><text class="xb" x="1218" y="1188">Mar</text><text class="xl" x="1245" y="1188">9</text><text class="xl" x="1271" y="1188">16</text>
</g>
</svg>
</body></html>
